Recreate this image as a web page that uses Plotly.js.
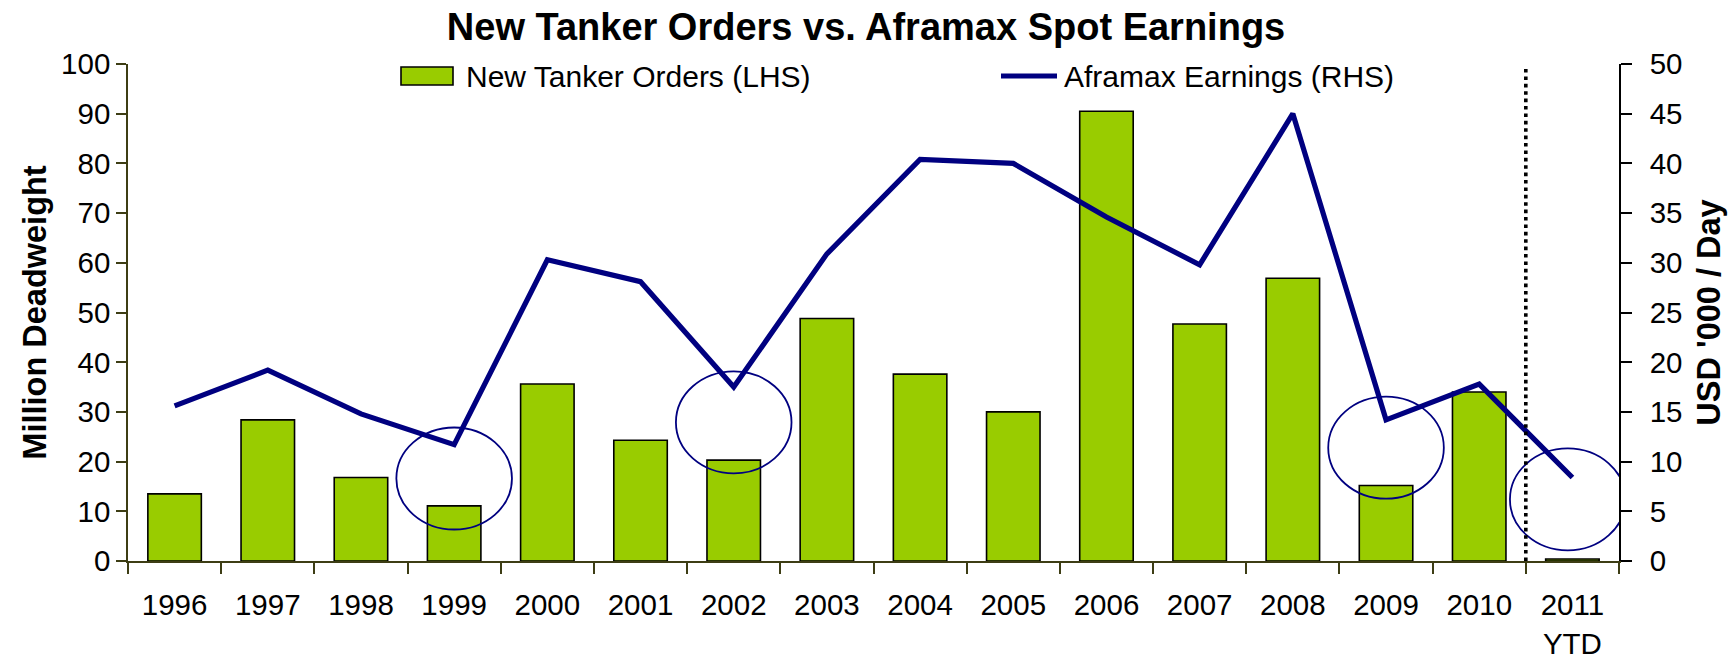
<!DOCTYPE html>
<html>
<head>
<meta charset="utf-8">
<script src="https://cdn.plot.ly/plotly-3.0.1.min.js"></script>
<style>
  html, body { margin: 0; padding: 0; background: #fff; }
  #chart { width: 1736px; height: 658px; }
</style>
</head>
<body>
<div id="chart"></div>
<script>
// ---- Data ----
const years = ['1996','1997','1998','1999','2000','2001','2002','2003','2004','2005','2006','2007','2008','2009','2010','2011<br>YTD'];
const newTankerOrders = [13.5, 28.4, 16.8, 11.1, 35.6, 24.3, 20.3, 48.8, 37.6, 30.0, 90.5, 47.7, 56.9, 15.2, 34.0, 0.4];   // Million DWT (LHS)
const aframaxEarnings = [15.6, 19.2, 14.8, 11.7, 30.3, 28.1, 17.5, 30.9, 40.4, 40.0, 34.6, 29.8, 45.0, 14.2, 17.8, 8.4];  // USD '000/day (RHS)
const seriesNames = ['New Tanker Orders (LHS)', 'Aframax Earnings (RHS)'];

// Highlight circles: category index and centre on the LHS scale
const circleCats = [3, 6, 13, 14.95];
const circleCentreLHS = [16.6, 27.9, 22.8, 12.4];

// Divider between full years and YTD (category boundary)
const dividerPos = 14.5;

const olive = '#3d3d14';
const navy = '#000080';
const green = '#99CC00';

// plot-area geometry (px)
const W = 1736, H = 658;
const M = { l: 128, r: 117, t: 64, b: 97 };
const PW = W - M.l - M.r, PH = H - M.t - M.b;
const px2x = px => (px - M.l) / PW;      // paper x from page px
const py2y = py => (H - M.b - py) / PH;  // paper y from page px

const traces = [
  {
    type: 'bar',
    name: seriesNames[0],
    x: years,
    y: newTankerOrders,
    yaxis: 'y',
    marker: { color: green, line: { color: '#000', width: 1.6 } },
    hoverinfo: 'x+y'
  },
  {
    type: 'scatter',
    mode: 'lines',
    name: seriesNames[1],
    x: years,
    y: aframaxEarnings,
    yaxis: 'y2',
    line: { color: navy, width: 5.2 },
    hoverinfo: 'x+y'
  }
];

const shapes = circleCats.map((c, i) => ({
  type: 'circle',
  xref: 'x', yref: 'y',
  xsizemode: 'pixel', ysizemode: 'pixel',
  xanchor: c, yanchor: circleCentreLHS[i],
  x0: -57.8, x1: 57.8, y0: -51, y1: 51,
  line: { color: navy, width: 1.8 },
  fillcolor: 'rgba(0,0,0,0)',
  layer: 'above'
}));
shapes.push({
  type: 'line', xref: 'x', yref: 'y',
  x0: dividerPos, x1: dividerPos, y0: 0, y1: 99,
  line: { color: '#000', width: 3.6, dash: '3.6px,3.8px' },
  layer: 'above'
});
// legend keys
shapes.push({
  type: 'rect', xref: 'paper', yref: 'paper',
  x0: px2x(401), x1: px2x(453), y0: py2y(85), y1: py2y(67),
  fillcolor: green, line: { color: '#000', width: 1.6 }, layer: 'above'
});
shapes.push({
  type: 'line', xref: 'paper', yref: 'paper',
  x0: px2x(1001), x1: px2x(1057), y0: py2y(76), y1: py2y(76),
  line: { color: navy, width: 5.2 }, layer: 'above'
});

const annotations = [
  { text: seriesNames[0], x: px2x(465), y: py2y(76) },
  { text: seriesNames[1], x: px2x(1063), y: py2y(76) }
].map(a => Object.assign({
  xref: 'paper', yref: 'paper', xanchor: 'left', yanchor: 'middle',
  showarrow: false, font: { size: 30, color: '#000' }, borderpad: 0
}, a));

const layout = {
  width: W,
  height: H,
  margin: { l: M.l, r: M.r, t: M.t, b: M.b, pad: 0 },
  paper_bgcolor: '#fff',
  plot_bgcolor: '#fff',
  font: { family: 'Liberation Sans, Arial, sans-serif', size: 29.5, color: '#000' },
  title: {
    text: '<b>New Tanker Orders vs. Aframax Spot Earnings</b>',
    font: { size: 38, color: '#000' },
    x: 0.495, xref: 'paper', xanchor: 'center',
    y: 0.959, yref: 'container', yanchor: 'middle'
  },
  showlegend: false,
  bargap: 0.426,
  xaxis: {
    type: 'category',
    range: [-0.5, 15.5],
    tickson: 'boundaries',
    ticks: 'outside', ticklen: 11, tickwidth: 1.5, tickcolor: olive,
    showline: true, linecolor: olive, linewidth: 1.5,
    showgrid: false, zeroline: false,
    tickangle: 0,
    ticklabelstandoff: 17,
    tickfont: { size: 29.5 }
  },
  yaxis: {
    range: [0, 100], tick0: 0, dtick: 10,
    ticks: 'outside', ticklen: 10, tickwidth: 1.5, tickcolor: olive,
    showline: true, linecolor: olive, linewidth: 1.5,
    showgrid: false, zeroline: false,
    ticklabelstandoff: 11.5,
    tickfont: { size: 29.5 },
    title: { text: '<b>Million Deadweight</b>', font: { size: 32.5 }, standoff: 4.5 }
  },
  yaxis2: {
    overlaying: 'y', side: 'right',
    range: [0, 50], tick0: 0, dtick: 5,
    ticks: 'outside', ticklen: 11, tickwidth: 1.5, tickcolor: '#000',
    showline: true, linecolor: '#000', linewidth: 1.5,
    showgrid: false, zeroline: false,
    ticklabelstandoff: 12,
    tickfont: { size: 29.5 },
    title: { text: "<b>USD '000 / Day</b>", font: { size: 32.5 }, standoff: 16 }
  },
  shapes: shapes,
  annotations: annotations
};

Plotly.newPlot('chart', traces, layout, { displayModeBar: false, responsive: false });
</script>
</body>
</html>
